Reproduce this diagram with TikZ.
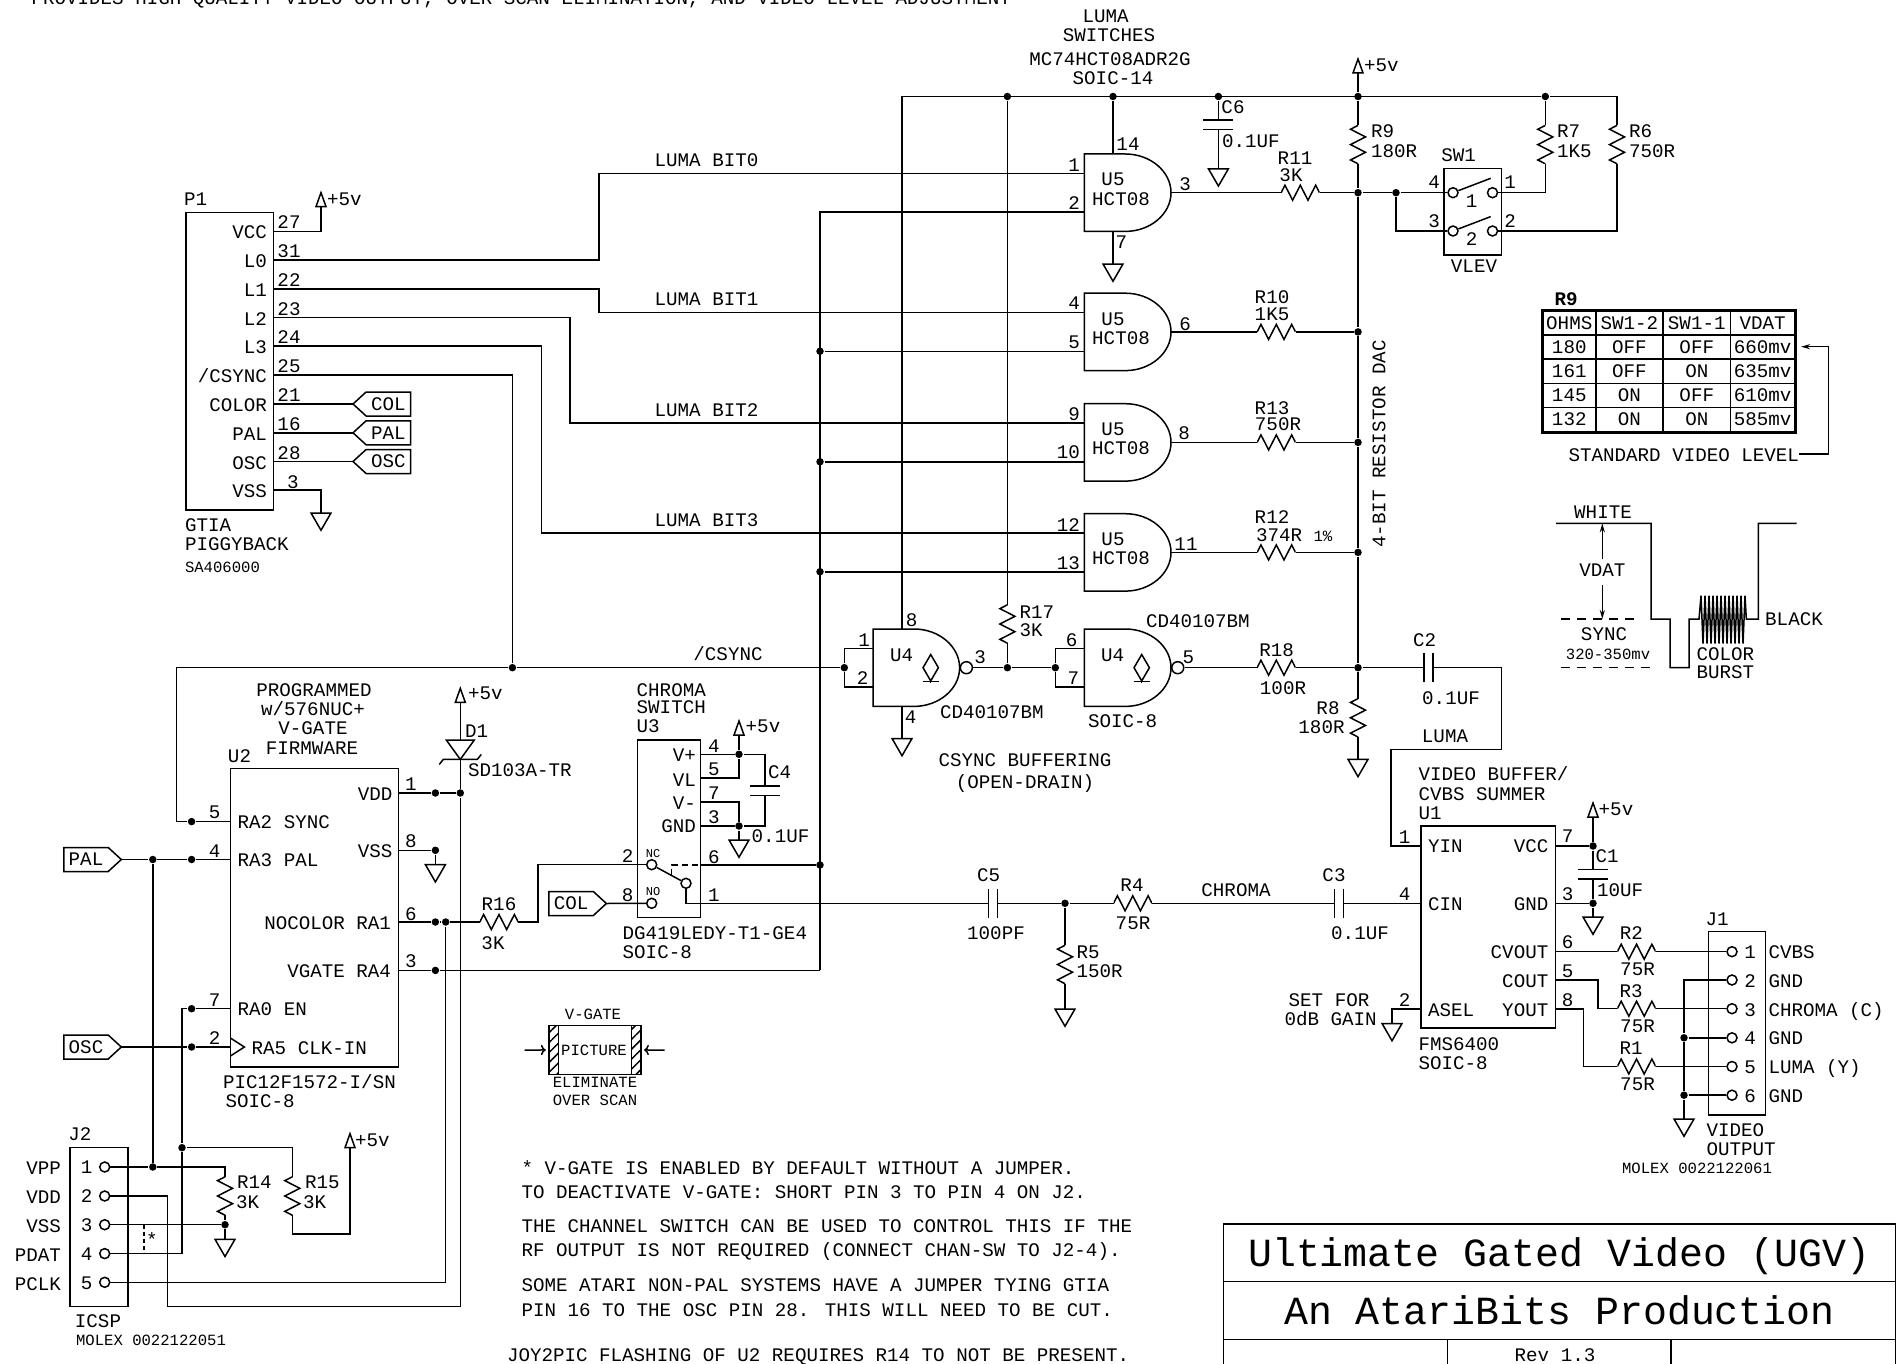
\documentclass[tikz,border=0pt]{standalone}
\usepackage{fontspec}
\setmainfont{Liberation Mono}
\usetikzlibrary{arrows.meta,matrix,patterns.meta,shapes.geometric,shapes.symbols}

\newcommand{\smalltext}{\fontsize{15.6}{15.6}\selectfont}
\newcommand{\gatebody}[2]{
  \node [gatebox] (#1) at (#2) {};
  \coordinate (#1in1) at ([yshift=19.35pt]#1.west);
  \coordinate (#1in2) at ([yshift=-19.35pt]#1.west);
  \draw (#1.north west) -- ([xshift=41pt]#1.north west)
    .. controls ([xshift=66pt]#1.north west) and ([yshift=21.2pt]#1.east) .. (#1.east)
    .. controls ([yshift=-21.2pt]#1.east) and ([xshift=66pt]#1.south west) .. ([xshift=41pt]#1.south west)
    -- (#1.south west) -- cycle;
}

\tikzset{
  lbl/.style={inner sep=0pt,outer sep=0pt,font=\fontsize{19.2}{19.2}\selectfont,text height=12.5pt,text depth=0pt},
  lbll/.style={lbl,anchor=west},
  lblr/.style={lbl,anchor=east},
  lbls/.style={lbl,font=\smalltext,text height=10.5pt},
  lblt/.style={chip,font=\fontsize{39.9}{39.9}\selectfont,text height=27pt,text depth=0pt,minimum width=672.2pt},
  chip/.style={draw,inner sep=0pt,outer sep=0pt,anchor=north west},
  dot/.style={circle,fill=black,inner sep=0pt,minimum size=7.5pt},
  hole/.style={circle,draw,fill=white,inner sep=0pt,minimum size=10pt},
  gatebox/.style={inner sep=0pt,outer sep=0pt,minimum width=86.6pt,minimum height=77.4pt,anchor=west},
  gnd/.style={regular polygon,regular polygon sides=3,shape border rotate=180,draw,inner sep=0pt,outer sep=0pt,minimum size=23pt,anchor=north},
  vcc/.style={isosceles triangle,isosceles triangle stretches,shape border rotate=90,draw,inner sep=0pt,outer sep=0pt,minimum width=10pt,minimum height=14pt,anchor=south},
  res/.style={inner sep=0pt,outer sep=0pt,minimum width=38.4pt,minimum height=20pt,path picture={
    \draw (path picture bounding box.west) -- ++(3.84,-7.5) -- ++(7.68,15) -- ++(7.68,-15) -- ++(7.68,15) -- ++(7.68,-15) -- ++(3.84,7.5);}},
  resv/.style={inner sep=0pt,outer sep=0pt,minimum width=20pt,minimum height=38.4pt,path picture={
    \draw (path picture bounding box.north) -- ++(-7.5,3.84) -- ++(15,7.68) -- ++(-15,7.68) -- ++(15,7.68) -- ++(-15,7.68) -- ++(7.5,3.84);}},
  capv/.style={inner sep=0pt,outer sep=0pt,minimum width=30pt,minimum height=9.5pt,append after command={
    (\tikzlastnode.north west) edge (\tikzlastnode.north east) (\tikzlastnode.south west) edge (\tikzlastnode.south east)}},
  caph/.style={inner sep=0pt,outer sep=0pt,minimum width=9pt,minimum height=29pt,append after command={
    (\tikzlastnode.north west) edge (\tikzlastnode.south west) (\tikzlastnode.north east) edge (\tikzlastnode.south east)}},
  odrain/.style={diamond,draw,inner sep=0pt,minimum width=16pt,minimum height=27pt},
  tagl/.style={lbl,signal,signal to=west,signal from=nowhere,signal pointer angle=85,draw,minimum width=57.5pt,minimum height=24pt,anchor=west},
  tagr/.style={lbl,signal,signal to=east,signal from=nowhere,signal pointer angle=85,draw,minimum width=57.5pt,minimum height=24pt,anchor=east},
  hatchbar/.style={draw,inner sep=0pt,outer sep=0pt,minimum width=9.7pt,minimum height=48.7pt,anchor=north west,pattern={Lines[angle=45,distance=7pt,line width=1.5pt]}},
  level/.style={-{Stealth[length=9pt,width=5pt]}}
}

\begin{document}
\begin{tikzpicture}[x=1pt,y=-1pt,line width=1.5pt]
  \useasboundingbox (0,0) rectangle (1902,1364);

  \node [lbll] (tNote) at (31.6,-1.3) {PROVIDES HIGH QUALITY VIDEO OUTPUT, OVER SCAN ELIMINATION, AND VIDEO LEVEL ADJUSTMENT};

  \node [chip,minimum width=87.5pt,minimum height=297.5pt] (P1) at (186,212.3) {};
  \coordinate (P1p27) at (273.5,231.4);
  \coordinate (P1p31) at (273.5,260.1);
  \coordinate (P1p22) at (273.5,288.8);
  \coordinate (P1p23) at (273.5,317.5);
  \coordinate (P1p24) at (273.5,346.2);
  \coordinate (P1p25) at (273.5,375);
  \coordinate (P1p21) at (273.5,404);
  \coordinate (P1p16) at (273.5,432.8);
  \coordinate (P1p28) at (273.5,461.5);
  \coordinate (P1p3)  at (273.5,490.2);
  \node [lbll] (tP1) at (184,199) {P1};
  \node [lblr] (tP1a) at (267,232.5) {VCC};
  \node [lblr] (tP1b) at (267,261) {L0};
  \node [lblr] (tP1c) at (267,290) {L1};
  \node [lblr] (tP1d) at (267,319) {L2};
  \node [lblr] (tP1e) at (267,347.5) {L3};
  \node [lblr] (tP1f) at (267,376.5) {/CSYNC};
  \node [lblr] (tP1g) at (267,405) {COLOR};
  \node [lblr] (tP1h) at (267,434) {PAL};
  \node [lblr] (tP1i) at (267,463) {OSC};
  \node [lblr] (tP1j) at (267,491.5) {VSS};
  \node [lbl] (nP1a) at (289,222.7) {27};
  \node [lbl] (nP1b) at (289,251.5) {31};
  \node [lbl] (nP1c) at (289,280) {22};
  \node [lbl] (nP1d) at (289,309) {23};
  \node [lbl] (nP1e) at (289,337.5) {24};
  \node [lbl] (nP1f) at (289,366.5) {25};
  \node [lbl] (nP1g) at (289,395.5) {21};
  \node [lbl] (nP1h) at (289,424) {16};
  \node [lbl] (nP1i) at (289,453) {28};
  \node [lbl] (nP1j) at (293,482) {3};
  \node [lbll] (tGtia) at (185,525) {GTIA};
  \node [lbll] (tPiggy) at (185,544.6) {PIGGYBACK};
  \node [lbls,anchor=west] (tSa) at (185,567) {SA406000};
  \node [vcc] (vccP1) at (321,206.6) {};
  \node [lbll] (tvP1) at (327,199.5) {+5v};
  \node [gnd] (gndP1) at (321,513) {};
  \node [tagl] (tagCOLa) at (353,404) {COL};
  \node [tagl] (tagPALa) at (353,432.8) {PAL};
  \node [tagl] (tagOSCa) at (353,461.5) {OSC};
  \draw (P1p27) -| (vccP1.south);
  \draw (P1p3) -| (gndP1.north);
  \draw (P1p21) -- (tagCOLa.west);
  \draw (P1p16) -- (tagPALa.west);
  \draw (P1p28) -- (tagOSCa.west);

  \gatebody{U5a}{1084.4,192.7}
  \gatebody{U5b}{1084.4,331.9}
  \gatebody{U5c}{1084.4,442.4}
  \gatebody{U5d}{1084.4,552.4}
  \node [lbl] (tU5a) at (1113,179.6) {U5};
  \node [lbl] (tHa) at (1121,198.8) {HCT08};
  \node [lbl] (tU5b) at (1113,318.8) {U5};
  \node [lbl] (tHb) at (1121,338) {HCT08};
  \node [lbl] (tU5c) at (1113,429.4) {U5};
  \node [lbl] (tHc) at (1121,448.5) {HCT08};
  \node [lbl] (tU5d) at (1113,539.4) {U5};
  \node [lbl] (tHd) at (1121,558.5) {HCT08};
  \node [lblr] (nU5a) at (1080,165.3) {1};
  \node [lblr] (nU5b) at (1080,203) {2};
  \node [lblr] (nU5c) at (1080,303.6) {4};
  \node [lblr] (nU5d) at (1080,342.3) {5};
  \node [lblr] (nU5e) at (1080,414) {9};
  \node [lblr] (nU5f) at (1080,452.4) {10};
  \node [lblr] (nU5g) at (1080,525) {12};
  \node [lblr] (nU5h) at (1080,563) {13};
  \node [lbl] (nU5i) at (1185,184) {3};
  \node [lbl] (nU5j) at (1185,324) {6};
  \node [lbl] (nU5k) at (1184,433) {8};
  \node [lbl] (nU5l) at (1186,544) {11};
  \node [lbl] (nU5m) at (1128,144.4) {14};
  \node [lbl] (nU5n) at (1121.4,242.7) {7};
  \node [lbl] (tLuma) at (1105.6,16.5) {LUMA};
  \node [lbl] (tSwi) at (1109,35.7) {SWITCHES};
  \node [lbl] (tMc) at (1110,59.6) {MC74HCT08ADR2G};
  \node [lbl] (tSo14) at (1113,78.7) {SOIC-14};

  \node [lbl] (tBit0) at (706.5,160.4) {LUMA BIT0};
  \node [lbl] (tBit1) at (706.5,299.3) {LUMA BIT1};
  \node [lbl] (tBit2) at (706.5,410) {LUMA BIT2};
  \node [lbl] (tBit3) at (706.5,520) {LUMA BIT3};
  \draw (P1p31) -- ++(325.5,0) |- (U5ain1);
  \draw (P1p22) -- ++(325.5,0) |- (U5bin1);
  \draw (P1p23) -- ++(296.5,0) |- (U5cin1);
  \draw (P1p24) -- ++(268,0) |- (U5din1);

  \coordinate (rBot) at (820,970.4);
  \node [dot] (jV1) at (U5bin2 -| rBot) {};
  \node [dot] (jV2) at (U5cin2 -| rBot) {};
  \node [dot] (jV3) at (U5din2 -| rBot) {};
  \draw (U5ain2) -| (rBot);
  \draw (jV1) -- (U5bin2);
  \draw (jV2) -- (U5cin2);
  \draw (jV3) -- (U5din2);

  \node [dot] (jR1) at (1007.4,96.5) {};
  \node [dot] (jR2) at (1113,96.5) {};
  \node [dot] (jR3) at (1218.4,96.5) {};
  \node [dot] (jR4) at (1358,96.5) {};
  \node [dot] (jR5) at (1545.3,96.5) {};
  \coordinate (U4p8) at (902,629);
  \coordinate (U4p4) at (902,706.7);
  \coordinate (U5p14) at (1113,154);
  \coordinate (U5p7) at (1113,231.4);
  \draw (U4p8) |- (jR5);
  \draw (jR2) -- (U5p14);
  \node [gnd] (gndU5) at (1113,264) {};
  \draw (U5p7) -- (gndU5.north);
  \node [capv] (C6) at (1218.4,125) {};
  \node [gnd] (gndC6) at (1218.4,168.8) {};
  \draw (jR3) -- (C6.north);
  \draw (C6.south) -- (gndC6.north);
  \node [lbl] (tC6a) at (1233,107.4) {C6};
  \node [lbll] (tC6b) at (1222,141.4) {0.1UF};
  \node [vcc] (vccRail) at (1358,73) {};
  \node [lbll] (tvRail) at (1364,65) {+5v};
  \draw (vccRail.south) -- (jR4);

  \node [res] (R11) at (1300.3,192.7) {};
  \node [res] (R10) at (1276.3,331.9) {};
  \node [res] (R13) at (1276.3,442.4) {};
  \node [res] (R12) at (1276.3,552.4) {};
  \node [resv] (R9) at (1358,144.6) {};
  \node [resv] (R7) at (1545.3,144.6) {};
  \node [resv] (R6) at (1617,144.6) {};
  \node [resv] (R8) at (1358,717.8) {};
  \node [lbl] (tR11a) at (1295,158.7) {R11};
  \node [lbl] (tR11b) at (1291,175) {3K};
  \node [lbl] (tR10a) at (1272,297) {R10};
  \node [lbl] (tR10b) at (1272,314) {1K5};
  \node [lbl] (tR13a) at (1272,408) {R13};
  \node [lbl] (tR13b) at (1278,424.5) {750R};
  \node [lbl] (tR12a) at (1272,517.6) {R12};
  \node [lbll] (tR12b) at (1256,535) {374R {\smalltext 1\%}};
  \node [lbll] (tR9a) at (1371,131) {R9};
  \node [lbll] (tR9b) at (1371,151) {180R};
  \node [lbll] (tR7a) at (1557,131) {R7};
  \node [lbll] (tR7b) at (1557,151) {1K5};
  \node [lbll] (tR6a) at (1629,131) {R6};
  \node [lbll] (tR6b) at (1629,151) {750R};
  \node [lbl] (tR8a) at (1328,708) {R8};
  \node [lbl] (tR8b) at (1321.5,727) {180R};
  \node [lbl,rotate=90] (tDac) at (1379,444) {4-BIT RESISTOR DAC};

  \node [dot] (jS) at (1358,192.7) {};
  \node [dot] (jD1) at (1358,331.9) {};
  \node [dot] (jD2) at (1358,442.4) {};
  \node [dot] (jD3) at (1358,552.4) {};
  \node [dot] (jD4) at (1358,667.7) {};
  \node [dot] (jSW) at (1396,192.7) {};
  \draw (U5a.east) -- (R11.west);
  \draw (R11.east) -- (jS);
  \draw (U5b.east) -- (R10.west);
  \draw (R10.east) -- (jD1);
  \draw (U5c.east) -- (R13.west);
  \draw (R13.east) -- (jD2);
  \draw (U5d.east) -- (R12.west);
  \draw (R12.east) -- (jD3);
  \draw (jR4) -- (R9.north);
  \draw (R9.south) -- (jS) -- (jD1) -- (jD2) -- (jD3) -- (jD4) -- (R8.north);
  \node [gnd] (gndR8) at (1358,759.4) {};
  \draw (R8.south) -- (gndR8.north);

  \node [chip,minimum width=57.6pt,minimum height=86.6pt] (SW1) at (1444,168.3) {};
  \node [hole] (SWa) at (1453,192.7) {};
  \node [hole] (SWb) at (1492.5,192.7) {};
  \node [hole] (SWc) at (1453,231) {};
  \node [hole] (SWd) at (1492.5,231) {};
  \coordinate (SWe) at (1490.7,178.3);
  \coordinate (SWf) at (1490.7,216.6);
  \draw (SWa) -- (SWe);
  \draw (SWc) -- (SWf);
  \draw (jS) -- (jSW) -- (SWa.west);
  \draw (jSW) |- (SWc.west);
  \draw (jR4) -- (jR5) -| (R6.north);
  \draw (jR5) -- (R7.north);
  \draw (R7.south) |- (SWb.east);
  \draw (R6.south) |- (SWd.east);
  \node [lbl] (tSW1) at (1458.6,155.7) {SW1};
  \node [lbl] (tVlev) at (1474,266) {VLEV};
  \node [lbl] (nSWa) at (1471.5,201) {1};
  \node [lbl] (nSWb) at (1471.5,239.7) {2};
  \node [lbl] (nSWc) at (1434,182.7) {4};
  \node [lbl] (nSWd) at (1434,221) {3};
  \node [lbl] (nSWe) at (1510,182.7) {1};
  \node [lbl] (nSWf) at (1510,221) {2};

  \node [lbl,font=\bfseries\fontsize{19.2}{19.2}\selectfont] (tTblR9) at (1566,299) {R9};
  \matrix [matrix of nodes,draw,line width=2.4pt,inner sep=0pt,outer sep=0pt,anchor=north west,row sep=-1.5pt,column sep=-1.5pt,
    nodes={lbl,draw,line width=1.5pt,minimum height=24.2pt},
    column 1/.style={nodes={minimum width=53pt}},
    column 2/.style={nodes={minimum width=67.4pt}},
    column 3/.style={nodes={minimum width=67.2pt}},
    column 4/.style={nodes={minimum width=64.4pt}}] (tbl) at (1542,310)
  {
    OHMS & SW1-2 & SW1-1 & VDAT \\
    180 & OFF & OFF & 660mv \\
    161 & OFF & ON & 635mv \\
    145 & ON & OFF & 610mv \\
    132 & ON & ON & 585mv \\
  };
  \node [lblr] (tStd) at (1799,455) {STANDARD VIDEO LEVEL};
  \coordinate (cArrB) at (1828.5,454);
  \coordinate (cArrTip) at (1801,346.7);
  \draw [level] (tStd.east |- cArrB) -- (cArrB) |- (cArrTip);

  \draw (1556,523.3) -- (1651,523.3) -- (1651,619) -- (1670,619) -- (1670,667.7) -- (1689,667.7) -- (1689,619) -- (1699,619)
    -- ++(2,-23.4) -- ++(2,48) -- ++(2,-48) -- ++(2,48) -- ++(2,-48) -- ++(2,48) -- ++(2,-48) -- ++(2,48) -- ++(2,-48) -- ++(2,48)
    -- ++(2,-48) -- ++(2,48) -- ++(2,-48) -- ++(2,48) -- ++(2,-48) -- ++(2,48) -- ++(2,-48) -- ++(2,48) -- ++(2,-48) -- ++(2,48)
    -- ++(2,-48) -- ++(2,48) -- ++(2,-48) -- ++(1.3,23.4)
    -- (1758.3,619) -- (1758.3,523.3) -- (1796.7,523.3);
  \node [lbl] (tWhite) at (1603,512) {WHITE};
  \node [lbl] (tVdat) at (1602.3,570.7) {VDAT};
  \node [lbl] (tSync) at (1604,634) {SYNC};
  \node [lbls] (tMv) at (1608,654) {320-350mv};
  \node [lbl] (tColor) at (1725.4,654.6) {COLOR};
  \node [lbl] (tBurst) at (1725.4,672) {BURST};
  \node [lbl] (tBlack) at (1794,619) {BLACK};
  \coordinate (cWhite) at (1602.3,523.3);
  \coordinate (cSyncA) at (1602.3,619);
  \coordinate (cDashA) at (1561,619);
  \coordinate (cDashB) at (1640,619);
  \coordinate (cDashC) at (1561,667.7);
  \coordinate (cDashD) at (1656,667.7);
  \draw [level] (tVdat.north) ++(0,-5) -- (cWhite);
  \draw [level] (tVdat.south) ++(0,8) -- (cSyncA);
  \draw [dash pattern=on 9pt off 7pt] (cDashA) -- (cDashB);
  \draw [dash pattern=on 9pt off 7pt] (cDashC) -- (cDashD);

  \gatebody{U4a}{873,667.7}
  \gatebody{U4b}{1084.4,667.7}
  \node [hole,minimum size=12pt,anchor=west] (U4ao) at (U4a.east) {};
  \node [hole,minimum size=12pt,anchor=west] (U4bo) at (U4b.east) {};
  \node [odrain] (odA) at (930.7,667.7) {};
  \node [odrain] (odB) at (1141.7,667.7) {};
  \coordinate (odAb) at (930.7,681.7);
  \coordinate (odBb) at (1141.7,681.7);
  \draw (odA.south) -- (odAb) ++(-8,0) -- ++(16,0);
  \draw (odB.south) -- (odBb) ++(-8,0) -- ++(16,0);
  \node [lbl] (tU4a) at (901.7,655) {U4};
  \node [lbl] (tU4b) at (1112.7,655) {U4};
  \node [lbl] (nU4a) at (864,640) {1};
  \node [lbl] (nU4b) at (862.7,678.3) {2};
  \node [lbl] (nU4c) at (980,657.3) {3};
  \node [lbl] (nU4d) at (910.7,717.7) {4};
  \node [lbl] (nU4e) at (1188.3,657.3) {5};
  \node [lbl] (nU4f) at (1071.7,640) {6};
  \node [lbl] (nU4g) at (1073.3,678.3) {7};
  \node [lbl] (nU4h) at (911.7,620) {8};
  \node [lbll] (tCdA) at (940,712.7) {CD40107BM};
  \node [lbll] (tCdB) at (1146,621.7) {CD40107BM};
  \node [lbll] (tSo8a) at (1088,721.7) {SOIC-8};
  \node [lbl] (tBuf) at (1025,760.6) {CSYNC BUFFERING};
  \node [lbl] (tOpen) at (1025,782) {(OPEN-DRAIN)};
  \node [lbl] (tCsync) at (728,654.6) {/CSYNC};

  \node [dot] (jCsync) at (512.4,667.7) {};
  \node [dot] (jU4a) at (844.3,667.7) {};
  \node [dot] (jU4b) at (1007.4,667.7) {};
  \node [dot] (jU4c) at (1055.3,667.7) {};
  \node [gnd] (gndU4) at (902,738.5) {};
  \node [resv] (R17) at (1007.4,624) {};
  \node [lbll] (tR17a) at (1019.5,612) {R17};
  \node [lbll] (tR17b) at (1019.5,630.7) {3K};
  \draw (P1p25) -| (jCsync);
  \draw (jCsync) -- (jU4a);
  \draw (U4ain1) -| (jU4a);
  \draw (U4ain2) -| (jU4a);
  \draw (U4ao.east) -- (jU4b) -- (jU4c);
  \draw (U4bin1) -| (jU4c);
  \draw (U4bin2) -| (jU4c);
  \draw (U4p4) -- (gndU4.north);
  \draw (jR1) -- (R17.north);
  \draw (R17.south) -- (jU4b);

  \node [res] (R18) at (1276.3,667.7) {};
  \node [caph] (C2) at (1428.5,667.7) {};
  \coordinate (bLumaA) at (1501.6,749.4);
  \coordinate (bLumaB) at (1391,749.4);
  \node [lbl] (tR18a) at (1276.6,650) {R18};
  \node [lbl] (tR18b) at (1283,688.5) {100R};
  \node [lbl] (tC2a) at (1424.6,640.7) {C2};
  \node [lbl] (tC2b) at (1451,698) {0.1UF};
  \node [lbl] (tLumaIn) at (1445,736) {LUMA};
  \draw (U4bo.east) -- (R18.west);
  \draw (R18.east) -- (jD4) -- (C2.west);

  \node [chip,minimum width=134.6pt,minimum height=202pt] (U1) at (1421,826) {};
  \coordinate (U1p1) at (1421,846);
  \coordinate (U1p4) at (1421,903.3);
  \coordinate (U1p2) at (1421,1009);
  \coordinate (U1p7) at (1555.6,846);
  \coordinate (U1p3) at (1555.6,903.3);
  \coordinate (U1p6) at (1555.6,951.7);
  \coordinate (U1p5) at (1555.6,980);
  \coordinate (U1p8) at (1555.6,1009);
  \draw (C2.east) -| (bLumaA) -- (bLumaB) |- (U1p1);
  \node [lbll] (tYin) at (1428,846.4) {YIN};
  \node [lbll] (tCin) at (1428,904) {CIN};
  \node [lbll] (tAsel) at (1428,1010) {ASEL};
  \node [lblr] (tVccU) at (1548.3,846.4) {VCC};
  \node [lblr] (tGndU) at (1548.3,904) {GND};
  \node [lblr] (tCvout) at (1548.3,952.5) {CVOUT};
  \node [lblr] (tCout) at (1548.3,981) {COUT};
  \node [lblr] (tYout) at (1548.3,1010) {YOUT};
  \node [lbl] (nU1a) at (1404.6,837) {1};
  \node [lbl] (nU1b) at (1404.6,894) {4};
  \node [lbl] (nU1c) at (1404.6,1000) {2};
  \node [lbl] (nU1d) at (1567.7,836.4) {7};
  \node [lbl] (nU1e) at (1567.7,894) {3};
  \node [lbl] (nU1f) at (1567.7,942) {6};
  \node [lbl] (nU1g) at (1567.7,971) {5};
  \node [lbl] (nU1h) at (1567.7,1000) {8};
  \node [lbll] (tVidBuf) at (1418.6,774.6) {VIDEO BUFFER/};
  \node [lbll] (tCvbsS) at (1418.6,794) {CVBS SUMMER};
  \node [lbll] (tU1) at (1418.6,813.4) {U1};
  \node [lbll] (tFms) at (1418.6,1044) {FMS6400};
  \node [lbll] (tSo8b) at (1418.6,1063) {SOIC-8};
  \node [vcc] (vccU1) at (1593,817) {};
  \node [lbll] (tvU1) at (1598.7,809) {+5v};
  \node [dot] (jC1a) at (1593,846) {};
  \node [dot] (jC1b) at (1593,903.3) {};
  \node [capv] (C1) at (1593,874.3) {};
  \node [gnd] (gndU1) at (1593,917) {};
  \node [lbll] (tC1a) at (1595.6,856.4) {C1};
  \node [lbll] (tC1b) at (1597,890) {10UF};
  \draw (vccU1.south) -- (jC1a) -- (C1.north);
  \draw (U1p7) -- (jC1a);
  \draw (C1.south) -- (jC1b) -- (gndU1.north);
  \draw (U1p3) -- (jC1b);
  \node [gnd] (gndAs) at (1392,1023.5) {};
  \draw (U1p2) -| (gndAs.north);
  \node [lbl] (tSetFor) at (1329,1000) {SET FOR};
  \node [lbl] (t0db) at (1330.6,1019.5) {0dB GAIN};

  \node [chip,minimum width=57.1pt,minimum height=183.1pt] (J1) at (1708.4,931.7) {};
  \node [hole] (J1a) at (1732,951.7) {};
  \node [hole] (J1b) at (1732,980) {};
  \node [hole] (J1c) at (1732,1008.7) {};
  \node [hole] (J1d) at (1732,1037.8) {};
  \node [hole] (J1e) at (1732,1066.5) {};
  \node [hole] (J1f) at (1732,1095.2) {};
  \node [res] (R2) at (1636.5,951.7) {};
  \node [res] (R3) at (1636.5,1008.7) {};
  \node [res] (R1) at (1636.5,1066.5) {};
  \node [dot] (jJ1d) at (1684,1037.8) {};
  \node [dot] (jJ1f) at (1684,1095.2) {};
  \node [gnd] (gndJ1) at (1684,1119) {};
  \draw (U1p6) -- (R2.west);
  \draw (R2.east) -- (J1a.west);
  \draw (U1p5) -- ++(42.4,0) |- (R3.west);
  \draw (R3.east) -- (J1c.west);
  \draw (U1p8) -- ++(27.9,0) |- (R1.west);
  \draw (R1.east) -- (J1e.west);
  \draw (J1b.west) -| (jJ1d);
  \draw (jJ1d) -- (jJ1f) -- (gndJ1.north);
  \draw (jJ1d) -- (J1d.west);
  \draw (jJ1f) -- (J1f.west);
  \node [lbl] (tJ1) at (1717,919) {J1};
  \node [lbl] (nJ1a) at (1750,952.5) {1};
  \node [lbl] (nJ1b) at (1750,981) {2};
  \node [lbl] (nJ1c) at (1750,1010) {3};
  \node [lbl] (nJ1d) at (1750,1038.5) {4};
  \node [lbl] (nJ1e) at (1750,1067.5) {5};
  \node [lbl] (nJ1f) at (1750,1096) {6};
  \node [lbll] (tJ1a) at (1768.5,952.5) {CVBS};
  \node [lbll] (tJ1b) at (1768.5,981) {GND};
  \node [lbll] (tJ1c) at (1768.5,1010) {CHROMA (C)};
  \node [lbll] (tJ1d) at (1768.5,1038.5) {GND};
  \node [lbll] (tJ1e) at (1768.5,1067.5) {LUMA (Y)};
  \node [lbll] (tJ1f) at (1768.5,1096) {GND};
  \node [lbl] (tR2a) at (1631.4,933.4) {R2};
  \node [lbl] (tR2b) at (1637.5,969) {75R};
  \node [lbl] (tR3a) at (1631,990.8) {R3};
  \node [lbl] (tR3b) at (1637.5,1026.5) {75R};
  \node [lbl] (tR1a) at (1631,1048.6) {R1};
  \node [lbl] (tR1b) at (1637.5,1084) {75R};
  \node [lbll] (tVidOut) at (1706.6,1130) {VIDEO};
  \node [lbll] (tOut) at (1706.6,1149) {OUTPUT};
  \node [lbls] (tMolA) at (1697,1168) {MOLEX 0022122061};

  \node [chip,minimum width=168pt,minimum height=298.4pt] (U2) at (230.4,768.6) {};
  \coordinate (U2p5) at (230.4,821.6);
  \coordinate (U2p4) at (230.4,859.5);
  \coordinate (U2p7) at (230.4,1008.7);
  \coordinate (U2p2) at (230.4,1047);
  \coordinate (U2p1) at (398.4,793);
  \coordinate (U2p8) at (398.4,850.3);
  \coordinate (U2p6) at (398.4,922);
  \coordinate (U2p3) at (398.4,970.4);
  \draw (U2p2) ++(0,-9) -- ++(14,9) -- ++(-14,9);
  \node [lblr] (tVdd) at (392.4,794) {VDD};
  \node [lblr] (tVss) at (392.4,851) {VSS};
  \node [lblr] (tNocol) at (391,923.4) {NOCOLOR RA1};
  \node [lblr] (tVgate) at (391,971) {VGATE RA4};
  \node [lbll] (tRa2) at (237.7,822) {RA2 SYNC};
  \node [lbll] (tRa3) at (237.7,860) {RA3 PAL};
  \node [lbll] (tRa0) at (237.7,1009.5) {RA0 EN};
  \node [lbll] (tRa5) at (251.7,1048) {RA5 CLK-IN};
  \node [lbl] (nU2a) at (214.7,812.5) {5};
  \node [lbl] (nU2b) at (214.7,850.8) {4};
  \node [lbl] (nU2c) at (214.7,1000.4) {7};
  \node [lbl] (nU2d) at (214.7,1038.7) {2};
  \node [lbl] (nU2e) at (411,784) {1};
  \node [lbl] (nU2f) at (411,841.6) {8};
  \node [lbl] (nU2g) at (411,913.8) {6};
  \node [lbl] (nU2h) at (411,961.7) {3};
  \node [lbl] (tProg) at (314,690.7) {PROGRAMMED};
  \node [lbl] (tW576) at (313,709.4) {w/576NUC+};
  \node [lbl] (tVg) at (313,728.5) {V-GATE};
  \node [lbl] (tFirm) at (312,748) {FIRMWARE};
  \node [lbl] (tU2) at (239.5,756) {U2};
  \node [lbll] (tPic) at (223,1082) {PIC12F1572-I/SN};
  \node [lbll] (tSo8c) at (225.6,1101) {SOIC-8};

  \node [dot] (jSync) at (191.6,821.6) {};
  \node [dot] (jPALa) at (152.8,859.5) {};
  \node [dot] (jPALb) at (191.6,859.5) {};
  \node [dot] (jEN) at (191.6,1008.7) {};
  \node [dot] (jOSC) at (191.6,1047) {};
  \node [tagr] (tagPALb) at (121.3,859.5) {PAL};
  \node [tagr] (tagOSCb) at (121.3,1047) {OSC};
  \draw (jCsync) -- (176.5,667.7) |- (jSync) -- (U2p5);
  \draw (tagPALb.east) -- (jPALa) -- (jPALb) -- (U2p4);
  \draw (tagOSCb.east) -- (jOSC) -- (U2p2);

  \node [vcc] (vccD1) at (460.3,702.4) {};
  \node [lbll] (tvD1) at (468,693) {+5v};
  \coordinate (D1a) at (460.3,740);
  \coordinate (D1k) at (460.3,759.4);
  \draw (D1a) ++(-14,0) -- ++(28,0) -- (D1k) -- cycle;
  \draw (D1k) ++(-21,5) -- ++(4,-5) -- ++(34,0) -- ++(4,-5);
  \node [lbll] (tD1a) at (465,731) {D1};
  \node [lbll] (tD1b) at (468,770) {SD103A-TR};
  \node [dot] (jVDDa) at (435.4,793) {};
  \node [dot] (jVDDb) at (460.3,793) {};
  \node [dot] (jVSS) at (435.4,850.3) {};
  \node [gnd] (gndU2) at (435.4,864.7) {};
  \node [dot] (jNCa) at (435.4,922) {};
  \node [dot] (jNCb) at (445.7,922) {};
  \node [dot] (jVG) at (435.4,970.4) {};
  \node [res] (R16) at (499,922) {};
  \node [lbl] (tR16a) at (499,904.7) {R16};
  \node [lbl] (tR16b) at (493,943) {3K};
  \draw (vccD1.south) -- (D1a);
  \draw (D1k) -- (jVDDb);
  \draw (U2p1) -- (jVDDa) -- (jVDDb);
  \draw (U2p8) -- (jVSS) -- (gndU2.north);
  \draw (U2p6) -- (jNCa) -- (jNCb) -- (R16.west);
  \draw (U2p3) -- (jVG) -- (rBot);

  \node [chip,minimum width=63.4pt,minimum height=177.3pt] (U3) at (637.3,740) {};
  \node [hole] (U3nc) at (651.7,864.7) {};
  \node [hole] (U3no) at (651.7,903.3) {};
  \node [hole] (U3com) at (686,883.3) {};
  \coordinate (U3p4) at (700.7,754.3);
  \coordinate (U3p5) at (700.7,778);
  \coordinate (U3p7) at (700.7,802);
  \coordinate (U3p3) at (700.7,826);
  \coordinate (U3p6) at (700.7,865);
  \coordinate (U3mid) at (671.7,875);
  \node [dot] (jVp) at (739,754.3) {};
  \node [dot] (jGn) at (739,826) {};
  \node [dot] (jV4) at (820,865) {};
  \node [vcc] (vccU3) at (739,735) {};
  \node [gnd] (gndU3) at (739,840) {};
  \node [capv] (C4) at (765,790.5) {};
  \node [tagr] (tagCOLb) at (606.4,903.5) {COL};
  \draw (U3nc) -- (U3com);
  \draw [dash pattern=on 6pt off 4pt] (U3mid) |- (U3p6);
  \draw (R16.east) -- ++(19.7,0) |- (U3nc.west);
  \draw (tagCOLb.east) -- (U3no.west);
  \draw (U3p6) -- (jV4);
  \draw (vccU3.south) -- (jVp);
  \draw (U3p4) -- (jVp) -| (C4.north);
  \draw (U3p5) -| (jVp);
  \draw (U3p7) -| (jGn);
  \draw (C4.south) |- (jGn);
  \draw (U3p3) -- (jGn) -- (gndU3.north);
  \node [lblr] (tVp) at (696,755.7) {V+};
  \node [lblr] (tVl) at (696,780) {VL};
  \node [lblr] (tVm) at (696,803) {V-};
  \node [lblr] (tGndV) at (696,826.7) {GND};
  \node [lbl] (nU3a) at (714,746) {4};
  \node [lbl] (nU3b) at (714,769.3) {5};
  \node [lbl] (nU3c) at (714,793) {7};
  \node [lbl] (nU3d) at (714,817) {3};
  \node [lbl] (nU3e) at (714,857) {6};
  \node [lbl] (nU3f) at (714,895) {1};
  \node [lbl] (nU3g) at (627.7,856.7) {2};
  \node [lbl] (nU3h) at (627.7,895) {8};
  \node [lbl,font=\fontsize{12}{12}\selectfont,text height=9pt] (tNc) at (653,852.7) {NC};
  \node [lbl,font=\fontsize{12}{12}\selectfont,text height=9pt] (tNo) at (653,890.7) {NO};
  \node [lbll] (tC4a) at (768,772.7) {C4};
  \node [lbll] (tC4b) at (751.7,836.7) {0.1UF};
  \node [lbll] (tvU3) at (745.7,726.7) {+5v};
  \node [lbll] (tChroma) at (636.7,690.7) {CHROMA};
  \node [lbll] (tSwitch) at (636.7,707.7) {SWITCH};
  \node [lbll] (tU3) at (636.7,726.7) {U3};
  \node [lbll] (tDg) at (622.7,933) {DG419LEDY-T1-GE4};
  \node [lbll] (tSo8d) at (622.7,952.7) {SOIC-8};

  \node [caph] (C5) at (993.2,903.3) {};
  \node [caph] (C3) at (1338.9,903.3) {};
  \node [res] (R4) at (1132.75,903.3) {};
  \node [resv] (R5) at (1065,964.5) {};
  \node [dot] (jR5n) at (1065,903.3) {};
  \node [gnd] (gndR5) at (1065,1009) {};
  \draw (U3com.south) |- (C5.west);
  \draw (C5.east) -- (jR5n) -- (R4.west);
  \draw (R4.east) -- (C3.west);
  \draw (C3.east) -- (U1p4);
  \draw (jR5n) -- (R5.north);
  \draw (R5.south) -- (gndR5.north);
  \node [lbl] (tC5a) at (988.6,875.6) {C5};
  \node [lbl] (tC5b) at (996,933) {100PF};
  \node [lbl] (tR4a) at (1132,885) {R4};
  \node [lbl] (tR4b) at (1133,923.4) {75R};
  \node [lbl] (tChrom) at (1236,890) {CHROMA};
  \node [lbl] (tC3a) at (1334,875.6) {C3};
  \node [lbl] (tC3b) at (1360,933) {0.1UF};
  \node [lbll] (tR5a) at (1076.5,952.5) {R5};
  \node [lbll] (tR5b) at (1076.5,971) {150R};

  \node [chip,minimum width=58pt,minimum height=159pt] (J2) at (70,1147.7) {};
  \node [hole] (J2a) at (104.7,1167) {};
  \node [hole] (J2b) at (104.7,1196) {};
  \node [hole] (J2c) at (104.7,1224.7) {};
  \node [hole] (J2d) at (104.7,1253.6) {};
  \node [hole] (J2e) at (104.7,1282.3) {};
  \node [lbl] (nJ2a) at (86.7,1167.5) {1};
  \node [lbl] (nJ2b) at (86.7,1196.5) {2};
  \node [lbl] (nJ2c) at (86.7,1225) {3};
  \node [lbl] (nJ2d) at (86.7,1254) {4};
  \node [lbl] (nJ2e) at (86.7,1283) {5};
  \node [lblr] (tJ2a) at (61,1168) {VPP};
  \node [lblr] (tJ2b) at (61,1197) {VDD};
  \node [lblr] (tJ2c) at (61,1226) {VSS};
  \node [lblr] (tJ2d) at (61,1255) {PDAT};
  \node [lblr] (tJ2e) at (61,1284) {PCLK};
  \node [lbl] (tJ2) at (80,1134) {J2};
  \node [lbl] (tIcsp) at (98,1321.7) {ICSP};
  \node [lbls] (tMolB) at (151,1340) {MOLEX 0022122051};

  \node [dot] (jVPP) at (152.8,1167) {};
  \node [dot] (jR15) at (182,1147.7) {};
  \node [dot] (jGND) at (225,1224.7) {};
  \node [resv] (R14) at (225,1196) {};
  \node [resv] (R15) at (292.3,1196) {};
  \node [gnd] (gndJ2) at (225,1239.3) {};
  \node [vcc] (vccJ2) at (350,1147.7) {};
  \coordinate (bVdd) at (167.3,1306.7);
  \coordinate (jmpA) at (144,1224.7);
  \coordinate (jmpB) at (144,1253.6);
  \draw (jPALa) -- (jVPP);
  \draw (J2a.east) -- (jVPP) -| (R14.north);
  \draw (R14.south) -- (jGND) -- (gndJ2.north);
  \draw (J2c.east) -- (jGND);
  \draw (U2p7) -- (jEN) -| (jR15);
  \draw (jR15) |- (J2d.east);
  \draw (jR15) -| (R15.north);
  \draw (R15.south) -- ++(0,19) -| (vccJ2.south);
  \draw (J2b.east) -| (bVdd) -| (jVDDb);
  \draw (J2e.east) -| (jNCb);
  \draw [dash pattern=on 4pt off 3pt] (jmpA) -- (jmpB);
  \node [lbl] (tStar) at (152,1240) {*};
  \node [lbll] (tR14a) at (237,1182) {R14};
  \node [lbll] (tR14b) at (236,1202) {3K};
  \node [lbll] (tR15a) at (305,1182) {R15};
  \node [lbll] (tR15b) at (303,1202) {3K};
  \node [lbll] (tvJ2) at (355,1140) {+5v};

  \node [chip,minimum width=92.2pt,minimum height=48.7pt] (vgBox) at (548.8,1025.6) {};
  \node [hatchbar] (vgL) at (548.8,1025.6) {};
  \node [hatchbar] (vgR) at (631.3,1025.6) {};
  \node [lbls] (tVgT) at (593,1014) {V-GATE};
  \node [lbls] (tVgP) at (594,1050) {PICTURE};
  \node [lbls] (tVgE) at (595,1082.6) {ELIMINATE};
  \node [lbls] (tVgO) at (595,1100.4) {OVER SCAN};
  \coordinate (vgArL) at (524.6,1050);
  \coordinate (vgArR) at (664.6,1050);
  \draw [->,shorten >=3pt] (vgArL) -- (vgBox);
  \draw [->,shorten >=3pt] (vgArR) -- (vgBox);

  \node [lbll] (tN1) at (521.5,1168) {* V-GATE IS ENABLED BY DEFAULT WITHOUT A JUMPER.};
  \node [lbll] (tN2) at (521.5,1192) {TO DEACTIVATE V-GATE: SHORT PIN 3 TO PIN 4 ON J2.};
  \node [lbll] (tN3) at (521.5,1226.6) {THE CHANNEL SWITCH CAN BE USED TO CONTROL THIS IF THE};
  \node [lbll] (tN4) at (521.5,1250) {RF OUTPUT IS NOT REQUIRED (CONNECT CHAN-SW TO J2-4).};
  \node [lbll] (tN5) at (521.5,1285.7) {SOME ATARI NON-PAL SYSTEMS HAVE A JUMPER TYING GTIA};
  \node [lbll] (tN6) at (521.5,1310) {PIN 16 TO THE OSC PIN 28. THIS WILL NEED TO BE CUT.};
  \node [lbll] (tN7) at (507,1355) {JOY2PIC FLASHING OF U2 REQUIRES R14 TO NOT BE PRESENT.};

  \node [lblt,minimum height=57.7pt] (tb1) at (1223.3,1224) {Ultimate Gated Video (UGV)};
  \node [lblt,minimum height=57.6pt] (tb2) at (1223.3,1281.7) {An AtariBits Production};
  \node [chip,minimum width=224.2pt,minimum height=60pt] (tb3) at (1223.3,1339.3) {};
  \node [chip,minimum width=223.5pt,minimum height=60pt] (tb4) at (1447.5,1339.3) {};
  \node [chip,minimum width=224.5pt,minimum height=60pt] (tb5) at (1671,1339.3) {};
  \node [lbl] (tRev) at (1555,1355) {Rev 1.3};
\end{tikzpicture}
\end{document}
